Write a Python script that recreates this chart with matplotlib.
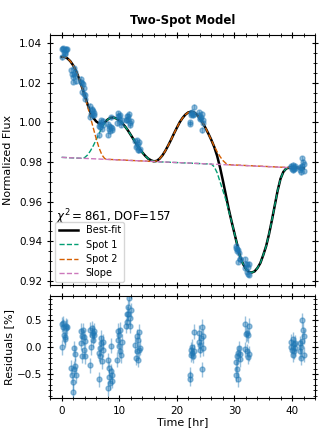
import matplotlib
matplotlib.use("Agg")
import matplotlib.pyplot as plt
from matplotlib.ticker import MultipleLocator


# =========================================================
# Data
# =========================================================
# ---- observations: time (hr), normalized flux, residual (%) ----
obs_time = [
    0.0, 0.1, 0.2, 0.3, 0.4, 0.5, 0.6, 0.7, 0.8, 0.9,
    1.7, 1.8, 1.9, 2.0, 2.1, 2.2, 2.3, 2.4, 2.5,
    3.3, 3.4, 3.5, 3.6, 3.7, 3.8, 3.9, 4.0, 4.1,
    4.9, 5.0, 5.1, 5.2, 5.3, 5.4, 5.5, 5.6, 5.7,
    6.4, 6.5, 6.6, 6.7, 6.8, 6.9, 7.0, 7.1, 7.2,
    8.0, 8.1, 8.2, 8.3, 8.4, 8.5, 8.6, 8.7, 8.8,
    9.6, 9.7, 9.8, 9.9, 10.0, 10.1, 10.2, 10.3, 10.4,
    11.2, 11.3, 11.4, 11.5, 11.6, 11.7, 11.8, 11.9, 12.0,
    12.8, 12.9, 13.0, 13.1, 13.2, 13.3, 13.4, 13.5, 13.6,
    22.2, 22.3, 22.4, 22.5, 22.6, 22.7, 22.8, 22.9, 23.0,
    23.8, 23.9, 24.0, 24.1, 24.2, 24.3, 24.4, 24.5, 24.6,
    30.2, 30.3, 30.4, 30.5, 30.6, 30.7, 30.8, 30.9, 31.0,
    31.8, 31.9, 32.0, 32.1, 32.2, 32.3, 32.4, 32.5, 32.6,
    39.8, 39.9, 40.0, 40.1, 40.2, 40.3, 40.4, 40.5, 40.6,
    41.3, 41.4, 41.5, 41.6, 41.7, 41.8, 41.9, 42.0, 42.1,
]
obs_flux = [
    1.0329, 1.0371, 1.0374, 1.0368, 1.0352, 1.0348, 1.0345, 1.0370, 1.0365, 1.0367,
    1.0262, 1.0244, 1.0227, 1.0204, 1.0241, 1.0273, 1.0235, 1.0252, 1.0206,
    1.0205, 1.0218, 1.0200, 1.0155, 1.0193, 1.0172, 1.0140, 1.0119, 1.0139,
    1.0024, 1.0082, 1.0044, 1.0062, 1.0068, 1.0055, 1.0036, 1.0048, 1.0037,
    0.9936, 0.9983, 0.9992, 0.9977, 1.0010, 1.0000, 0.9967, 0.9988, 1.0006,
    0.9938, 0.9992, 0.9979, 0.9965, 0.9956, 1.0026, 0.9978, 0.9972, 0.9962,
    0.9995, 1.0030, 1.0045, 1.0014, 1.0032, 1.0000, 1.0037, 0.9987, 1.0009,
    1.0011, 1.0029, 1.0010, 1.0033, 1.0016, 1.0042, 0.9985, 0.9995, 1.0004,
    0.9903, 0.9874, 0.9910, 0.9878, 0.9858, 0.9891, 0.9901, 0.9862, 0.9863,
    1.0000, 0.9993, 1.0039, 1.0048, 1.0042, 1.0053, 1.0035, 1.0079, 1.0041,
    1.0038, 1.0051, 1.0015, 1.0019, 1.0028, 1.0044, 0.9961, 0.9995, 1.0012,
    0.9365, 0.9376, 0.9352, 0.9363, 0.9357, 0.9296, 0.9342, 0.9310, 0.9308,
    0.9266, 0.9308, 0.9284, 0.9283, 0.9246, 0.9233, 0.9270, 0.9285, 0.9232,
    0.9781, 0.9772, 0.9766, 0.9786, 0.9757, 0.9763, 0.9776, 0.9779, 0.9769,
    0.9761, 0.9776, 0.9749, 0.9770, 0.9781, 0.9819, 0.9801, 0.9789, 0.9755,
]
obs_resid = [
    0.00, 0.42, 0.44, 0.38, 0.22, 0.18, 0.15, 0.40, 0.36, 0.38,
    -0.38, -0.52, -0.65, -0.83, -0.40, -0.02, -0.35, -0.12, -0.52,
    0.08, 0.30, 0.20, -0.16, 0.31, 0.18, -0.05, -0.17, 0.12,
    -0.34, 0.32, 0.00, 0.23, 0.35, 0.27, 0.14, 0.30, 0.22,
    -0.60, -0.11, -0.02, -0.17, 0.17, 0.07, -0.26, -0.05, 0.10,
    -0.76, -0.24, -0.39, -0.55, -0.66, 0.03, -0.45, -0.52, -0.62,
    -0.23, 0.14, 0.30, 0.02, 0.22, -0.07, 0.32, -0.15, 0.10,
    0.40, 0.62, 0.47, 0.74, 0.62, 0.92, 0.40, 0.54, 0.68,
    0.04, -0.20, 0.20, -0.08, -0.23, 0.14, 0.29, -0.06, -0.01,
    -0.51, -0.59, -0.14, -0.05, -0.10, 0.01, -0.16, 0.29, -0.08,
    0.10, 0.27, -0.05, 0.04, 0.17, 0.38, -0.41, -0.02, 0.20,
    -0.51, -0.28, -0.40, -0.17, -0.11, -0.60, -0.02, -0.22, -0.12,
    -0.04, 0.43, 0.24, 0.26, -0.08, -0.18, 0.22, 0.40, -0.12,
    0.10, 0.01, -0.05, 0.15, -0.14, -0.08, 0.05, 0.08, -0.02,
    -0.08, 0.07, -0.20, 0.01, 0.12, 0.50, 0.32, 0.20, -0.14,
]
FLUX_ERR = 0.0013
RESID_ERR = 0.14

# ---- best-fit model ----
fit_time = [
    0, 0.5, 1, 1.5, 2, 2.5, 3, 3.5, 4, 4.5, 5, 5.5, 6, 6.5, 7, 7.5, 8, 8.5, 9, 9.5,
    10, 10.5, 11, 11.5, 12, 12.5, 13, 13.5, 14, 14.5, 15, 15.5, 16, 16.5, 17, 17.5,
    18, 18.5, 19, 19.5, 20, 20.5, 21, 21.5, 22, 22.5, 23, 23.5, 24, 24.5, 25, 25.5,
    26, 26.5, 27, 27.5, 28, 28.5, 29, 29.5, 30, 30.5, 31, 31.5, 32, 32.5, 33, 33.5,
    34, 34.5, 35, 35.5, 36, 36.5, 37, 37.5, 38, 38.5, 39, 39.5, 40, 41, 42,
]
fit_flux = [
    1.0329, 1.0330, 1.0322, 1.0308, 1.0287, 1.0258, 1.0222, 1.0180, 1.0136, 1.0090,
    1.0050, 1.0022, 1.0004, 0.9994, 0.9993, 1.0000, 1.0014, 1.0023, 1.0024, 1.0019,
    1.0010, 0.9996, 0.9979, 0.9959, 0.9936, 0.9913, 0.9890, 0.9868, 0.9848, 0.9831,
    0.9817, 0.9808, 0.9803, 0.9805, 0.9816, 0.9833, 0.9856, 0.9883, 0.9912, 0.9943,
    0.9972, 1.0000, 1.0022, 1.0039, 1.0050, 1.0053, 1.0049, 1.0038, 1.0020, 0.9997,
    0.9970, 0.9941, 0.9910, 0.9875, 0.9830, 0.9772, 0.9705, 0.9635, 0.9563, 0.9500,
    0.9440, 0.9380, 0.9320, 0.9285, 0.9260, 0.9245, 0.9242, 0.9248, 0.9265, 0.9290,
    0.9330, 0.9375, 0.9435, 0.9505, 0.9580, 0.9655, 0.9715, 0.9750, 0.9767, 0.9771,
    0.9771, 0.9770, 0.9768,
]

# ---- spot 1 ----
spot1_time = [
    0, 3.5, 4, 4.5, 5, 5.5, 6, 6.5, 7, 7.5, 8, 8.5, 9, 9.5, 10, 10.5, 11, 11.5,
    12, 12.5, 13, 13.5, 14, 14.5, 15, 15.5, 16, 16.5, 26, 26.5, 27, 27.5, 28,
    28.5, 29, 29.5, 30, 30.5, 31, 31.5, 32, 32.5, 33, 33.5, 34, 34.5, 35, 35.5,
    36, 36.5, 37, 37.5, 38, 38.5, 39, 39.5, 42,
]
spot1_flux = [
    0.9823, 0.9818, 0.9822, 0.9835, 0.9856, 0.9882, 0.9912, 0.9943, 0.9972, 0.9996,
    1.0014, 1.0023, 1.0024, 1.0019, 1.0010, 0.9996, 0.9979, 0.9959, 0.9936, 0.9913,
    0.9890, 0.9868, 0.9848, 0.9831, 0.9817, 0.9808, 0.9803, 0.9801, 0.9789, 0.9775,
    0.9745, 0.9700, 0.9655, 0.9610, 0.9555, 0.9500, 0.9440, 0.9380, 0.9320, 0.9285,
    0.9260, 0.9245, 0.9242, 0.9248, 0.9265, 0.9290, 0.9330, 0.9375, 0.9435, 0.9505,
    0.9580, 0.9655, 0.9715, 0.9750, 0.9767, 0.9771, 0.9768,
]

# ---- spot 2 ----
spot2_time = [
    0, 0.5, 1, 1.5, 2, 2.5, 3, 3.5, 4, 4.5, 5, 5.5, 6, 6.5, 7, 7.5, 8, 16, 16.5,
    17, 17.5, 18, 18.5, 19, 19.5, 20, 20.5, 21, 21.5, 22, 22.5, 23, 23.5, 24,
    24.5, 25, 25.5, 26, 26.5, 27, 27.5, 28, 28.5, 29, 42,
]
spot2_flux = [
    1.0329, 1.0330, 1.0322, 1.0308, 1.0287, 1.0258, 1.0222, 1.0180, 1.0132, 1.0080,
    1.0025, 0.9970, 0.9917, 0.9870, 0.9835, 0.9816, 0.9813, 0.9802, 0.9805, 0.9816,
    0.9833, 0.9856, 0.9883, 0.9912, 0.9943, 0.9972, 1.0000, 1.0022, 1.0039, 1.0050,
    1.0053, 1.0049, 1.0038, 1.0020, 0.9997, 0.9970, 0.9941, 0.9909, 0.9879, 0.9851,
    0.9827, 0.9807, 0.9793, 0.9786, 0.9768,
]

# ---- linear slope ----
slope_time = [0, 42]
slope_flux = [0.9823, 0.9768]

CHI2 = 861
DOF = 157


# =========================================================
# Style
# =========================================================
PT_COLOR = "#1f77b4"
C_SPOT1 = "#029e73"
C_SPOT2 = "#d55e00"
C_SLOPE = "#cc78bc"
FS_LABEL = 8
FS_TICK = 7.5

plt.rcParams["font.size"] = FS_LABEL


def style_axis(ax):
    ax.tick_params(which="both", direction="inout", top=True, right=True,
                   labelsize=FS_TICK)
    ax.tick_params(which="major", length=4.5, width=0.8)
    ax.tick_params(which="minor", length=2.5, width=0.6)
    ax.xaxis.set_major_locator(MultipleLocator(10))
    ax.xaxis.set_minor_locator(MultipleLocator(2))


# =========================================================
# Figure
# =========================================================
fig = plt.figure(figsize=(3.32, 4.43), dpi=100)
ax = fig.add_axes([0.151, 0.357, 0.798, 0.564])
axr = fig.add_axes([0.151, 0.102, 0.798, 0.230], sharex=ax)

# -----------------------------------------------------
# Light curve + model components
# -----------------------------------------------------
ax.errorbar(obs_time, obs_flux, yerr=FLUX_ERR, fmt="o", ms=3.6,
            color=PT_COLOR, alpha=0.45, elinewidth=1, zorder=4)
ax.plot(fit_time, fit_flux, color="black", lw=1.8, label="Best-fit", zorder=2)
ax.plot(spot1_time, spot1_flux, "--", color=C_SPOT1, lw=1, label="Spot 1", zorder=3)
ax.plot(spot2_time, spot2_flux, "--", color=C_SPOT2, lw=1, label="Spot 2", zorder=3)
ax.plot(slope_time, slope_flux, "--", color=C_SLOPE, lw=1, label="Slope", zorder=3)

ax.set_xlim(-2, 44)
ax.set_ylim(0.918, 1.044)
ax.yaxis.set_major_locator(MultipleLocator(0.02))
ax.yaxis.set_minor_locator(MultipleLocator(0.005))
ax.yaxis.set_major_formatter(lambda v, p: f"{v:.2f}")
style_axis(ax)
ax.tick_params(labelbottom=False)
ax.set_ylabel("Normalized Flux", fontsize=FS_LABEL)
ax.set_title("Two-Spot Model", fontsize=8.5, fontweight="bold", pad=8)

ax.text(0.023, 0.272, rf"$\chi^2 = {CHI2}$, DOF={DOF}", transform=ax.transAxes,
        fontsize=8.5, va="center", ha="left")
ax.legend(loc="upper left", bbox_to_anchor=(0.019, 0.252), borderaxespad=0,
          fontsize=7, handlelength=2.0, labelspacing=0.45, borderpad=0.35)

# -----------------------------------------------------
# Residuals
# -----------------------------------------------------
axr.errorbar(obs_time, obs_resid, yerr=RESID_ERR, fmt="o", ms=3.6,
             color=PT_COLOR, alpha=0.45, elinewidth=1)
axr.set_ylim(-0.94, 0.95)
axr.yaxis.set_major_locator(MultipleLocator(0.5))
axr.yaxis.set_minor_locator(MultipleLocator(0.1))
style_axis(axr)
axr.set_ylabel("Residuals [%]", fontsize=FS_LABEL, labelpad=2)
axr.set_xlabel("Time [hr]", fontsize=FS_LABEL, labelpad=1)

# -----------------------------------------------------
# Save figure
# -----------------------------------------------------
fig.savefig("out.png", dpi=100)
plt.close(fig)
